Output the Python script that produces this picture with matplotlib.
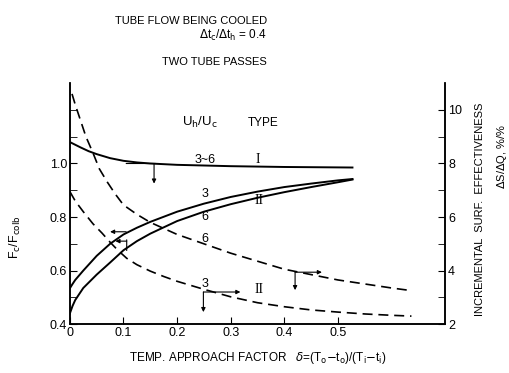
import numpy as np
import matplotlib
matplotlib.use('Agg')
import matplotlib.pyplot as plt

plt.rcParams['font.family'] = ['Liberation Sans', 'DejaVu Sans']
plt.rcParams['mathtext.fontset'] = 'dejavusans'

# Type I, U_h/U_c = 3~6 (left axis)
delta_I = [0, 0.01, 0.02, 0.035, 0.05, 0.075, 0.1, 0.125, 0.15, 0.2, 0.3, 0.4, 0.527]
F_I = [1.08, 1.07, 1.06, 1.046, 1.035, 1.02, 1.01, 1.004, 1.0, 0.995, 0.99, 0.987, 0.985]

# Type II, U_h/U_c = 3 and 6 (left axis)
delta_II = [0, 0.005, 0.01, 0.025, 0.05, 0.075, 0.1, 0.125, 0.15, 0.2, 0.25, 0.3, 0.35, 0.4, 0.45, 0.5, 0.527]
F_II_3 = [0.534, 0.55, 0.565, 0.6, 0.655, 0.7, 0.735, 0.76, 0.782, 0.82, 0.85, 0.875, 0.895, 0.912, 0.925, 0.937, 0.942]
F_II_6 = [0.44, 0.468, 0.49, 0.535, 0.585, 0.63, 0.676, 0.71, 0.738, 0.785, 0.82, 0.848, 0.872, 0.893, 0.912, 0.93, 0.94]

# incremental surface effectiveness, type II (right axis)
delta_e6 = [0.004, 0.01, 0.02, 0.03, 0.043, 0.055, 0.07, 0.085, 0.1, 0.125, 0.15, 0.2, 0.25,
            0.3, 0.35, 0.4, 0.45, 0.5, 0.55, 0.6, 0.63]
eff_6 = [10.6, 10.2, 9.6, 9.0, 8.4, 7.8, 7.3, 6.85, 6.45, 6.1, 5.8, 5.35, 5.0,
         4.65, 4.35, 4.05, 3.85, 3.65, 3.5, 3.35, 3.27]
delta_e3 = [0, 0.01, 0.025, 0.043, 0.06, 0.075, 0.09, 0.106, 0.125, 0.15, 0.175, 0.2, 0.25,
            0.3, 0.35, 0.4, 0.45, 0.5, 0.55, 0.6, 0.637]
eff_3 = [6.95, 6.6, 6.2, 5.75, 5.4, 5.06, 4.75, 4.46, 4.22, 3.98, 3.78, 3.6, 3.3,
         3.02, 2.8, 2.65, 2.53, 2.45, 2.38, 2.33, 2.3]

x_ticks = [0, 0.1, 0.2, 0.3, 0.4, 0.5]
x_labels = ['0', '0.1', '0.2', '0.3', '0.4', '0.5']
y_labels = ['0.4', '0.6', '0.8', '1.0']
r_labels = ['2', '4', '6', '8', '10']

fig = plt.figure(figsize=(5.1, 3.73), dpi=100)
ax = fig.add_axes([0.137, 0.131, 0.736, 0.646])
ax2 = ax.twinx()

ax.set_xlim(0, 0.7)
ax.set_ylim(0.4, 1.3)
ax2.set_ylim(2, 11)

for a in (ax, ax2):
    a.spines['top'].set_visible(False)
    for s in a.spines.values():
        s.set_linewidth(1.1)

lw = 1.4
ax.plot(delta_I, F_I, color='black', lw=lw)
ax.plot(delta_II, F_II_3, color='black', lw=lw)
ax.plot(delta_II, F_II_6, color='black', lw=lw)
ax2.plot(delta_e6, eff_6, color='black', lw=1.2, dashes=(6, 3.5))
ax2.plot(delta_e3, eff_3, color='black', lw=1.2, dashes=(6, 3.5))

# ticks
ax.set_xticks(x_ticks)
ax.set_xticklabels(x_labels)
ax.set_yticks([0.4, 0.6, 0.8, 1.0])
ax.set_yticklabels(y_labels)
ax.set_yticks([0.5, 0.7, 0.9, 1.1, 1.2], minor=True)
ax.tick_params(axis='both', which='both', direction='in', labelsize=9)
ax.tick_params(axis='both', which='major', length=5, pad=2)
ax.tick_params(axis='y', which='minor', length=5)
ax2.set_yticks([2, 4, 6, 8, 10])
ax2.set_yticklabels(r_labels)
ax2.set_yticks([3, 5, 7, 9], minor=True)
ax2.tick_params(axis='y', which='both', direction='in', length=5, labelsize=9, pad=2)

# axis labels
ax.set_ylabel(r'F$_\mathrm{c}$/F$_\mathrm{colb}$', fontsize=9)
ax.yaxis.set_label_coords(-0.125, 0.36)
ax.set_xlabel(r'TEMP. APPROACH FACTOR   $\delta$=(T$_\mathrm{o}$$-$t$_\mathrm{o}$)/(T$_\mathrm{i}$$-$t$_\mathrm{i}$)',
              fontsize=8.5, labelpad=8)
fig.text(0.941, 0.44, 'INCREMENTAL  SURF.  EFFECTIVENESS', rotation=90,
         ha='center', va='center', fontsize=8)
fig.text(0.984, 0.58, r'$\Delta$S/$\Delta$Q, %/%', rotation=90,
         ha='center', va='center', fontsize=8)

# header
fig.text(0.524, 0.945, 'TUBE FLOW BEING COOLED', ha='right', va='center', fontsize=8)
fig.text(0.524, 0.905, r'$\Delta$t$_\mathrm{c}$/$\Delta$t$_\mathrm{h}$ = 0.4', ha='right', va='center', fontsize=8.5)
fig.text(0.524, 0.835, 'TWO TUBE PASSES', ha='right', va='center', fontsize=8)

# curve labels
serif = ['Liberation Serif', 'DejaVu Serif']
ax.text(0.243, 1.155, r'U$_\mathrm{h}$/U$_\mathrm{c}$', ha='center', va='center', fontsize=9.5)
ax.text(0.36, 1.15, 'TYPE', ha='center', va='center', fontsize=8.5)
ax.text(0.252, 1.014, '3~6', ha='center', va='center', fontsize=9)
ax.text(0.35, 1.014, 'I', ha='center', va='center', fontsize=10, family=serif)
ax.text(0.252, 0.887, '3', ha='center', va='center', fontsize=9)
ax.text(0.252, 0.80, '6', ha='center', va='center', fontsize=9)
ax.text(0.352, 0.862, 'II', ha='center', va='center', fontsize=10, family=serif)
ax.text(0.252, 0.717, '6', ha='center', va='center', fontsize=9)
ax.text(0.252, 0.55, '3', ha='center', va='center', fontsize=9)
ax.text(0.352, 0.528, 'II', ha='center', va='center', fontsize=10, family=serif)

# direction arrows telling which axis each curve is read on
head = dict(arrowstyle='-|>', color='black', lw=0.8, mutation_scale=6, shrinkA=0, shrinkB=0)
line = dict(arrowstyle='-', color='black', lw=0.8, shrinkA=0, shrinkB=0)
ax.annotate('', xy=(0.105, 1.0), xytext=(0.16, 1.0), arrowprops=line)
ax.annotate('', xy=(0.157, 0.925), xytext=(0.157, 1.0), arrowprops=head)
ax.annotate('', xy=(0.075, 0.745), xytext=(0.105, 0.745), arrowprops=head)
ax.annotate('', xy=(0.085, 0.71), xytext=(0.106, 0.71), arrowprops=head)
ax.annotate('', xy=(0.106, 0.675), xytext=(0.106, 0.715), arrowprops=line)
ax.annotate('', xy=(0.318, 0.52), xytext=(0.249, 0.52), arrowprops=head)
ax.annotate('', xy=(0.249, 0.445), xytext=(0.249, 0.52), arrowprops=head)
ax.annotate('', xy=(0.47, 0.594), xytext=(0.42, 0.594), arrowprops=head)
ax.annotate('', xy=(0.42, 0.527), xytext=(0.42, 0.594), arrowprops=head)

fig.savefig('out.png', dpi=100)
